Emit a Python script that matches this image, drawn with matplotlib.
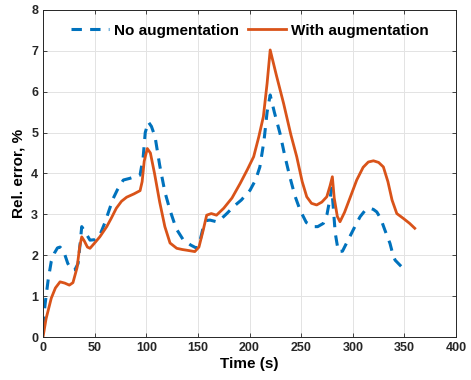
import matplotlib
matplotlib.use("Agg")
from matplotlib import pyplot as plt

# values
t_with = [0, 3, 8, 12, 16.5, 21, 25.5, 29, 33, 35.5, 37.5, 40, 43, 45.5, 50, 55, 61.7, 66, 71, 76,
          81, 88, 94, 96, 98, 101, 104, 108, 113, 118, 123, 129.5, 135, 140, 147, 151, 155, 158.5,
          163, 168, 175, 183, 191, 198, 204, 209, 213.4, 217, 220, 226, 233, 240, 245.7, 251,
          255.4, 260, 265, 270, 274.8, 278, 280.2, 282, 285, 287.6, 292, 298, 303.8, 310, 315,
          320, 325, 329.6, 334, 338, 342.6, 349, 355, 360]
err_with = [0, 0.45, 0.95, 1.2, 1.35, 1.32, 1.27, 1.33, 1.7, 2.2, 2.45, 2.35, 2.2, 2.17, 2.3, 2.45,
            2.7, 2.9, 3.15, 3.32, 3.42, 3.5, 3.58, 3.8, 4.3, 4.61, 4.5, 4.0, 3.3, 2.7, 2.3, 2.17,
            2.14, 2.12, 2.09, 2.2, 2.6, 2.98, 3.02, 2.98, 3.15, 3.4, 3.76, 4.1, 4.41, 4.9, 5.39,
            6.2, 7.02, 6.4, 5.71, 4.95, 4.41, 3.8, 3.43, 3.27, 3.23, 3.3, 3.43, 3.7, 3.92, 3.4,
            2.95, 2.82, 3.05, 3.45, 3.84, 4.15, 4.28, 4.31, 4.27, 4.16, 3.8, 3.35, 3.02, 2.9,
            2.78, 2.66]

t_no = [0, 2, 5, 8, 11, 14, 16.5, 20, 24, 27.8, 31, 34, 36, 37.5, 40, 45.5, 50, 55, 60, 64, 68,
        72, 77.8, 84, 90, 94, 97, 99, 102, 105, 108.5, 113, 118, 123, 129, 136, 143, 149, 152,
        155.3, 158, 161.7, 168, 173, 178, 185, 192, 200.5, 206, 210, 214, 217, 220, 224, 229.5,
        234, 239, 244, 249, 255, 261.8, 266, 271.5, 275, 278, 279.6, 281, 283, 286, 290, 297,
        302, 307, 312, 316.7, 320, 323.2, 327, 331, 336, 339, 341, 346, 352]
err_no = [0.25, 0.8, 1.4, 1.85, 2.05, 2.18, 2.2, 2.1, 1.8, 1.64, 1.65, 1.8, 2.3, 2.7, 2.6, 2.37,
          2.38, 2.49, 2.8, 3.1, 3.39, 3.6, 3.84, 3.88, 3.93, 3.96, 4.4, 5.0, 5.26, 5.15, 4.9, 4.2,
          3.55, 3.1, 2.65, 2.37, 2.25, 2.17, 2.35, 2.7, 2.85, 2.86, 2.82, 2.9, 3.02, 3.2, 3.35,
          3.59, 3.85, 4.16, 4.8, 5.5, 5.92, 5.5, 4.98, 4.45, 3.92, 3.45, 3.1, 2.8, 2.7, 2.7, 2.78,
          3.0, 3.4, 3.64, 3.2, 2.54, 2.09, 2.1, 2.45, 2.7, 2.94, 3.1, 3.15, 3.12, 3.06, 2.9, 2.62,
          2.29, 2.0, 1.88, 1.75, 1.6]

x_ticks = [0, 50, 100, 150, 200, 250, 300, 350, 400]
y_ticks = [0, 1, 2, 3, 4, 5, 6, 7, 8]

plt.rcParams['font.family'] = ['Liberation Sans', 'DejaVu Sans']
plt.rcParams['font.weight'] = 'bold'

fig = plt.figure(figsize=(4.71, 3.8), dpi=100)
ax = fig.add_axes([0.0913, 0.113, 0.877, 0.861])

ax.plot(t_no, err_no, color='#0072BD', lw=2.2, linestyle=(0, (3.4, 2.7)), label='No augmentation')
ax.plot(t_with, err_with, color='#D95319', lw=2.0, label='With augmentation')

ax.set_xlim(0, 400)
ax.set_ylim(0, 8)
ax.set_xticks(x_ticks)
ax.set_yticks(y_ticks)
ax.grid(True, color='#e3e3e3', lw=0.7)
ax.set_axisbelow(True)
ax.tick_params(direction='in', top=True, right=True, labelsize=9, colors='#262626',
               length=3, width=0.6)
for lab in ax.get_xticklabels() + ax.get_yticklabels():
    lab.set_fontweight('bold')
for s in ax.spines.values():
    s.set_color('#262626')
    s.set_linewidth(0.7)

ax.set_xlabel('Time (s)', fontsize=11, fontweight='bold', labelpad=2)
ax.set_ylabel('Rel. error, %', fontsize=11, fontweight='bold', labelpad=4)

leg = ax.legend(loc='upper center', ncol=2, frameon=False, fontsize=11,
                handlelength=2.5, columnspacing=0.6, handletextpad=0.3,
                bbox_to_anchor=(0.5, 1.0))
for txt in leg.get_texts():
    txt.set_fontweight('bold')

fig.savefig('out.png', dpi=100)
